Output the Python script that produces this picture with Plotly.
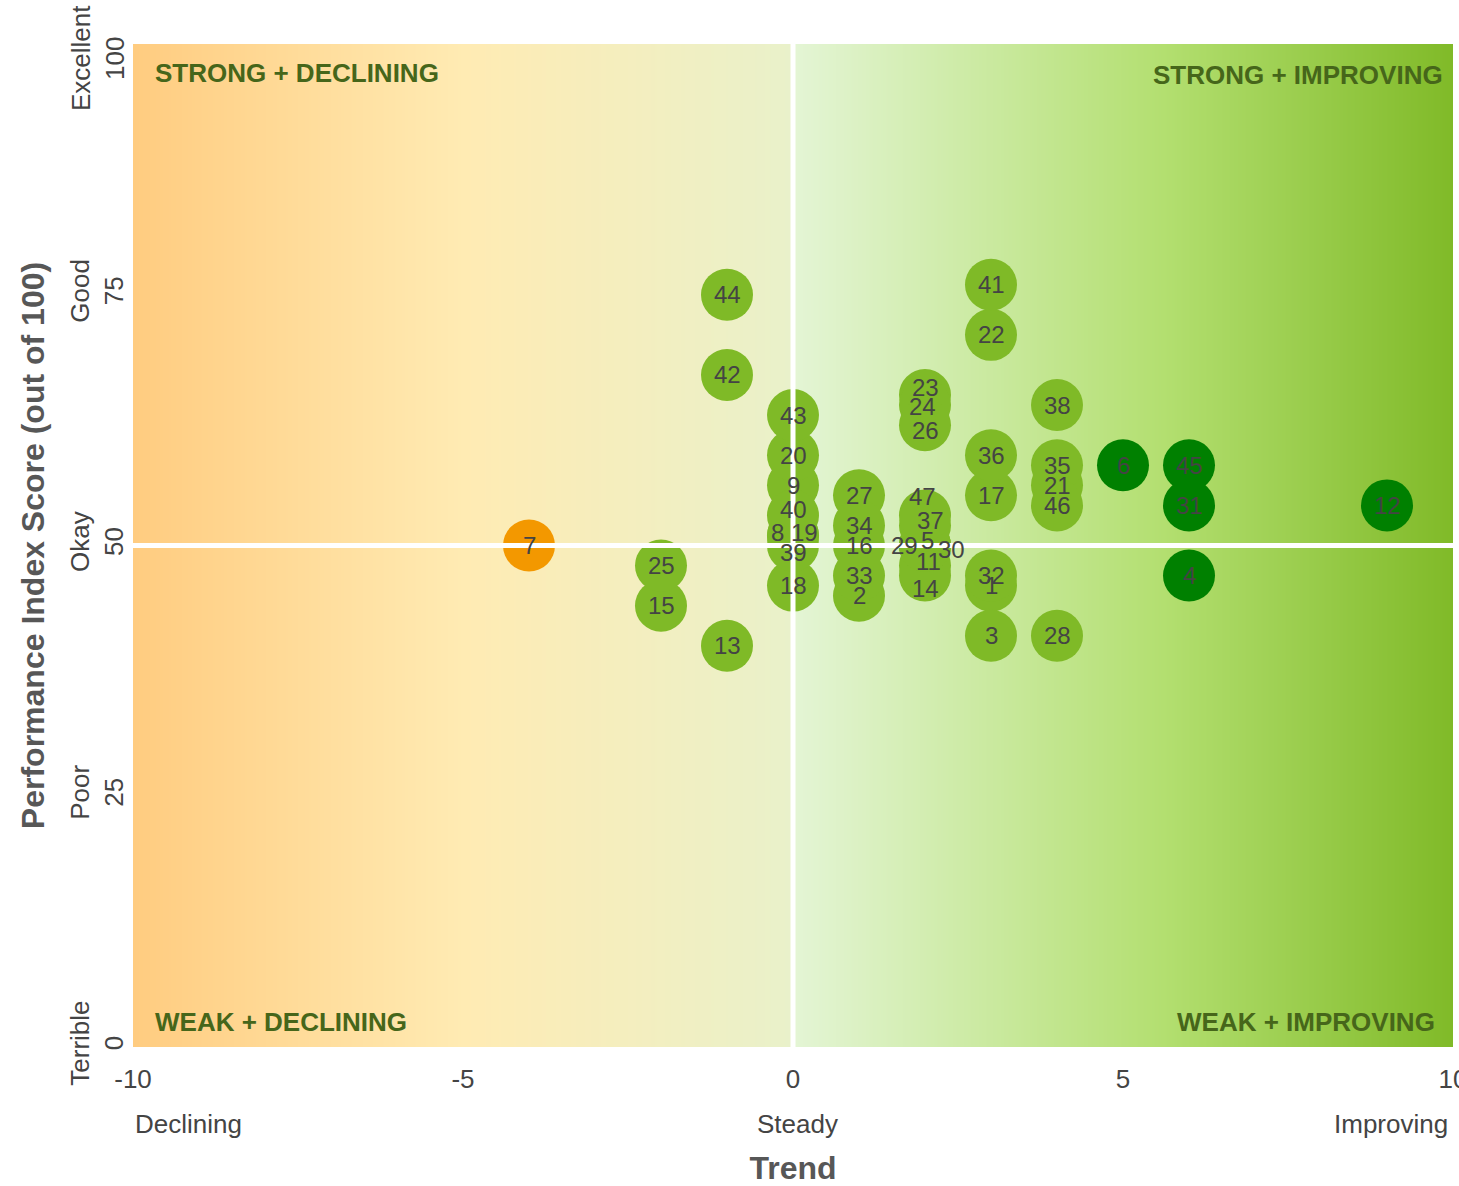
import numpy as np
import plotly.graph_objects as go

# ---- data -------------------------------------------------------------
ids = [1, 2, 3, 4, 5, 6, 7, 8, 9, 11, 12, 13, 14, 15, 16, 17, 18, 19, 20,
       21, 22, 23, 24, 25, 26, 27, 28, 29, 30, 31, 32, 33, 34, 35, 36, 37,
       38, 39, 40, 41, 42, 43, 44, 45, 46, 47]
trend = [3, 1, 3, 6, 2, 5, -4, 0, 0, 2, 9, -1, 2, -2, 1, 3, 0, 0, 0,
         4, 3, 2, 2, -2, 2, 1, 4, 2, 2, 6, 3, 1, 1, 4, 3, 2,
         4, 0, 0, 3, -1, 0, -1, 6, 4, 2]
score = [46, 45, 41, 47, 50, 58, 50, 51, 56, 48, 54, 40, 47, 44, 50, 55, 46, 51, 59,
         56, 71, 65, 64, 48, 62, 55, 41, 50, 50, 54, 47, 47, 52, 58, 59, 52,
         64, 50, 53, 76, 67, 63, 75, 58, 54, 53]
status = ["mid", "mid", "mid", "top", "mid", "top", "low", "mid", "mid", "mid", "top",
          "mid", "mid", "mid", "mid", "mid", "mid", "mid", "mid", "mid", "mid", "mid",
          "mid", "mid", "mid", "mid", "mid", "mid", "mid", "top", "mid", "mid", "mid",
          "mid", "mid", "mid", "mid", "mid", "mid", "mid", "mid", "mid", "mid", "top",
          "mid", "mid"]

y_ticks = [0, 25, 50, 75, 100]
y_tick_names = ["Terrible", "Poor", "Okay", "Good", "Excellent"]
x_ticks = [-10, -5, 0, 5, 10]
x_band_names = ["Declining", "Steady", "Improving"]
quadrant_names = ["STRONG + DECLINING", "STRONG + IMPROVING",
                  "WEAK + DECLINING", "WEAK + IMPROVING"]

# ---- styling ----------------------------------------------------------
status_colors = {"low": "#F39800", "mid": "#7FBA27", "top": "#008000"}
FONT = "Liberation Sans, Arial, sans-serif"
TEXT_DARK = "#444444"
TITLE_COLOR = "#575757"
QUAD_COLOR = "#46661A"

# pixel nudges so overlapping ids stay readable
label_nudge = {
    40: (0, -6), 8: (-16, -3), 19: (11, -3), 39: (0, 7),
    23: (0, -8), 24: (-3, 1), 26: (0, 5),
    47: (-3, -19), 37: (5, -5), 29: (-21, 0), 5: (2, -5), 30: (26, 4),
    11: (3, -4), 14: (0, 13),
}

fig = go.Figure()

# gradient backdrop across the trend axis
gx = np.linspace(-10, 10, 401)
fig.add_trace(go.Heatmap(
    x=gx, y=[0, 100], z=[gx, gx], zmin=-10, zmax=10, zsmooth="best",
    colorscale=[[0.0, "#FFCC80"], [0.25, "#FFEBB3"], [0.4995, "#E9F1CA"],
                [0.5005, "#E4F5D5"], [0.78, "#B3DF70"], [1.0, "#80BA28"]],
    showscale=False, hoverinfo="skip",
))

fig.add_trace(go.Scatter(
    x=trend, y=score, mode="markers",
    marker=dict(size=52, color=[status_colors[s] for s in status],
                line=dict(width=0), opacity=1),
    hoverinfo="skip", showlegend=False,
))

for i, tx, sc in zip(ids, trend, score):
    dx, dy = label_nudge.get(i, (0, 0))
    fig.add_annotation(x=tx, y=sc, text=str(i), showarrow=False,
                       xshift=dx, yshift=-dy,
                       font=dict(family=FONT, size=24, color=TEXT_DARK))

# divider lines through the neutral point
fig.add_shape(type="line", x0=0, x1=0, y0=0, y1=100, xref="x", yref="y",
              line=dict(color="white", width=5), layer="above")
fig.add_shape(type="line", x0=-10, x1=10, y0=50, y1=50, xref="x", yref="y",
              line=dict(color="white", width=5), layer="above")

# quadrant captions
quad_font = dict(family=FONT, size=26, color=QUAD_COLOR)
fig.add_annotation(x=0.015, y=0.971, xref="paper", yref="paper", text=f"<b>{quadrant_names[0]}</b>",
                   showarrow=False, xanchor="left", yanchor="middle", font=quad_font)
fig.add_annotation(x=0.994, y=0.969, xref="paper", yref="paper", text=f"<b>{quadrant_names[1]}</b>",
                   showarrow=False, xanchor="right", yanchor="middle", font=quad_font)
fig.add_annotation(x=0.015, y=0.025, xref="paper", yref="paper", text=f"<b>{quadrant_names[2]}</b>",
                   showarrow=False, xanchor="left", yanchor="middle", font=quad_font)
fig.add_annotation(x=0.988, y=0.025, xref="paper", yref="paper", text=f"<b>{quadrant_names[3]}</b>",
                   showarrow=False, xanchor="right", yanchor="middle", font=quad_font)

# descriptive captions under the trend ticks
band_font = dict(family=FONT, size=26, color=TEXT_DARK)
fig.add_annotation(x=0.0, y=-0.077, xref="paper", yref="paper", text=x_band_names[0],
                   showarrow=False, xanchor="left", yanchor="middle", font=band_font)
fig.add_annotation(x=0.5, y=-0.077, xref="paper", yref="paper", text=x_band_names[1],
                   showarrow=False, xanchor="center", yanchor="middle", font=band_font, xshift=4)
fig.add_annotation(x=0.998, y=-0.077, xref="paper", yref="paper", text=x_band_names[2],
                   showarrow=False, xanchor="right", yanchor="middle", font=band_font)

# the top score label is pushed down so it stays inside the page
fig.add_annotation(x=0, y=y_ticks[-1], xref="paper", yref="y",
                   text=f"{y_tick_names[-1]}<br>{y_ticks[-1]}", textangle=-90,
                   showarrow=False, xanchor="center", yanchor="middle",
                   xshift=-35, yshift=-14, font=band_font)

fig.update_layout(
    width=1459, height=1186,
    margin=dict(l=133, r=6, t=44, b=139),
    paper_bgcolor="white", plot_bgcolor="white",
    showlegend=False,
    font=dict(family=FONT, size=26, color=TEXT_DARK),
)
fig.update_xaxes(
    range=[-10, 10], tickvals=x_ticks, ticktext=[str(v) for v in x_ticks],
    showgrid=False, zeroline=False, showline=False, ticks="",
    ticklabeloverflow="allow", ticklabelstandoff=14, automargin=False,
    tickfont=dict(family=FONT, size=26, color=TEXT_DARK),
    title=dict(text="<b>Trend</b>", font=dict(family=FONT, size=32, color=TITLE_COLOR),
               standoff=78),
)
fig.update_yaxes(
    range=[0, 100], tickvals=y_ticks[:-1],
    ticktext=[f"{n}<br>{v}" for n, v in zip(y_tick_names[:-1], y_ticks[:-1])],
    tickangle=-90, showgrid=False, zeroline=False, showline=False, ticks="",
    ticklabeloverflow="allow", ticklabelstandoff=4, automargin=False,
    tickfont=dict(family=FONT, size=26, color=TEXT_DARK),
    title=dict(text="<b>Performance Index Score (out of 100)</b>",
               font=dict(family=FONT, size=32, color=TITLE_COLOR), standoff=10),
)

fig.write_html("out.html")
